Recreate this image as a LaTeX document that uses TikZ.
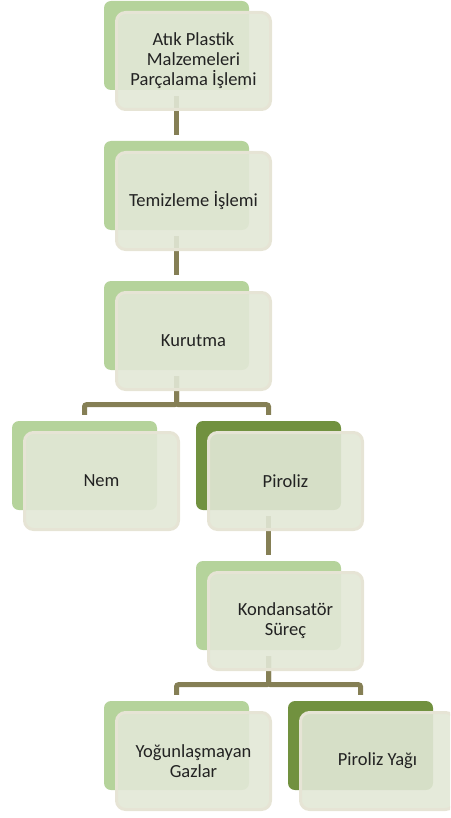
\documentclass[tikz,border=0pt]{standalone}
\usepackage{fontspec}
\setmainfont{Carlito}

\definecolor{lightgreen}{HTML}{B5D39B}
\definecolor{darkgreen}{HTML}{71913F}
\definecolor{boxfill}{HTML}{E2E8D6}
\definecolor{boxline}{HTML}{E6E4D5}
\definecolor{linkcolor}{HTML}{857F55}
\definecolor{textgray}{HTML}{222222}

\begin{document}
\begin{tikzpicture}[x=1pt,y=-1pt]

\tikzset{back/.style = {shape=rectangle, rounded corners=7pt, fill=lightgreen, minimum width=145pt, minimum height=89pt}}
\tikzset{backdark/.style = {back, fill=darkgreen}}
\tikzset{front/.style = {shape=rectangle, rounded corners=9pt, draw=boxline, line width=3pt, fill=boxfill, fill opacity=0.9, text opacity=1, text=textgray, minimum width=154pt, minimum height=97pt, align=center, font=\fontsize{18.5}{20}\selectfont}}
\tikzset{edge/.style = {draw=linkcolor, line width=5pt, shorten >=6pt, rounded corners=2pt}}

\path[use as bounding box, clip] (0,0) rectangle (450,818);

%back boxes
\node[back] (1) at (176.5,45.5) {};
\node[back] (2) at (176.5,185.5) {};
\node[back] (3) at (176.5,325.5) {};
\node[back] (4) at (84.5,465.5) {};
\node[backdark] (5) at (268.5,465.5) {};
\node[back] (6) at (268.5,605.5) {};
\node[back] (7) at (176.5,745.5) {};
\node[backdark] (8) at (360.5,745.5) {};
%edges
\draw[edge] ([yshift=-6pt]1.south) -- (2.north);
\draw[edge] ([yshift=-6pt]2.south) -- (3.north);
\draw[edge] ([yshift=-6pt]3.south) -- ++(0,28.5) -| (4.north);
\draw[edge] ([yshift=-6pt]3.south) -- ++(0,28.5) -| (5.north);
\draw[edge] ([yshift=-6pt]5.south) -- (6.north);
\draw[edge] ([yshift=-6pt]6.south) -- ++(0,28.5) -| (7.north);
\draw[edge] ([yshift=-6pt]6.south) -- ++(0,28.5) -| (8.north);
%front boxes
\node[front] (1t) at ([shift={(17,15.5)}]1.center) {Atık Plastik\\Malzemeleri\\Parçalama İşlemi};
\node[front] (2t) at ([shift={(17,15.5)}]2.center) {Temizleme İşlemi};
\node[front] (3t) at ([shift={(17,15.5)}]3.center) {Kurutma};
\node[front] (4t) at ([shift={(17,15.5)}]4.center) {Nem};
\node[front] (5t) at ([shift={(17,15.5)}]5.center) {Piroliz};
\node[front] (6t) at ([shift={(17,15.5)}]6.center) {Kondansatör\\Süreç};
\node[front] (7t) at ([shift={(17,15.5)}]7.center) {Yoğunlaşmayan\\Gazlar};
\node[front] (8t) at ([shift={(17,15.5)}]8.center) {Piroliz Yağı};

\end{tikzpicture}
\end{document}
